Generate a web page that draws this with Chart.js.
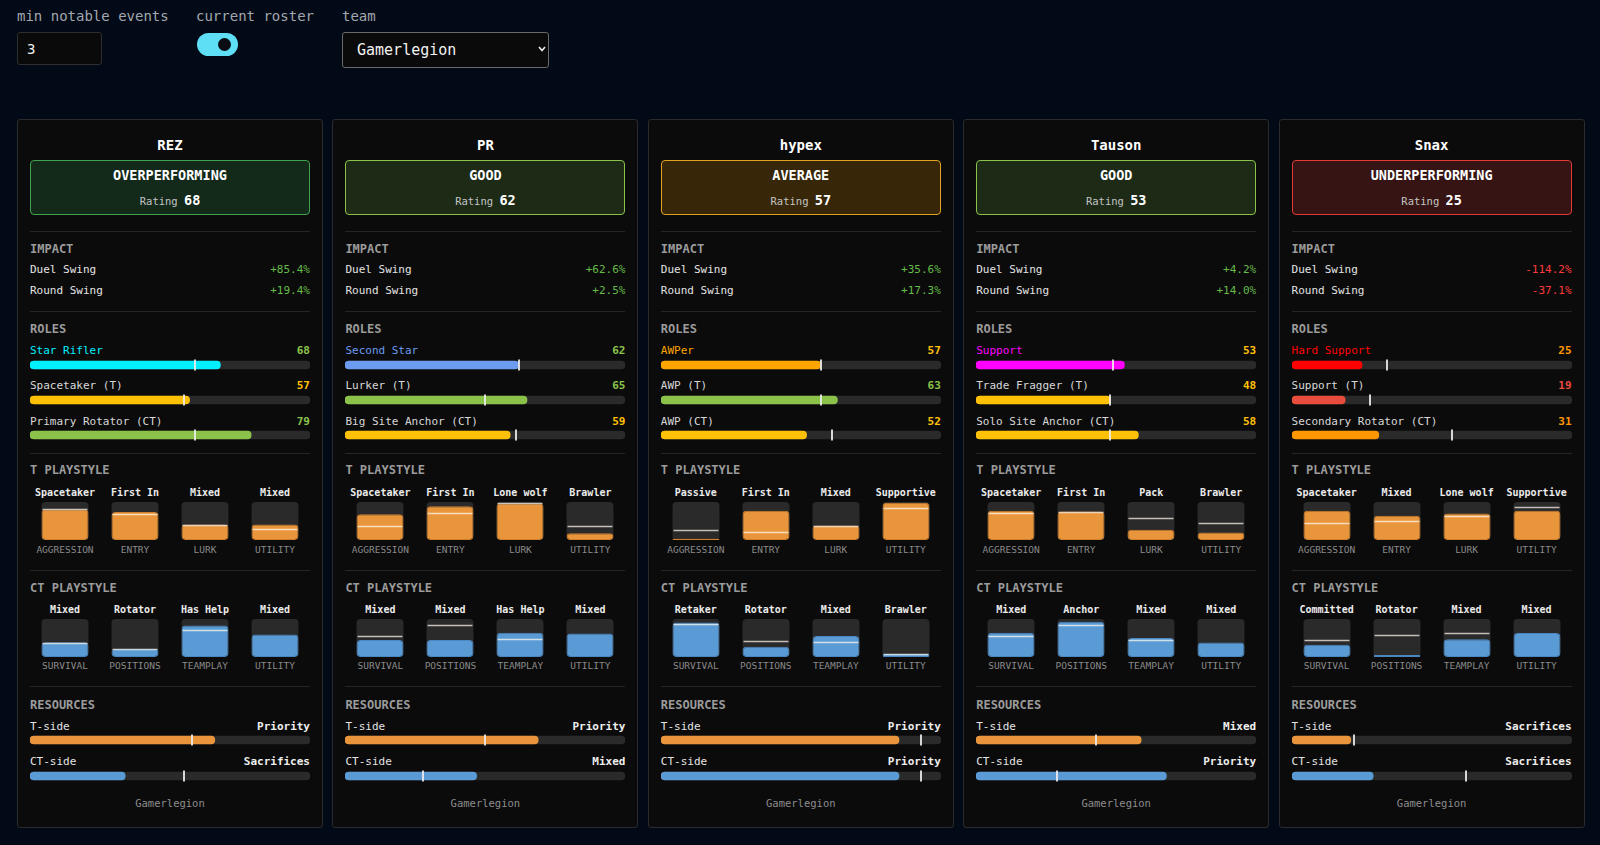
<!DOCTYPE html>
<html lang="en">
<head>
<meta charset="UTF-8">
<title>Gamerlegion roster</title>
<script src="https://cdn.jsdelivr.net/npm/chart.js@4.4.0/dist/chart.umd.min.js"></script>
<style>
  html, body { margin: 0; padding: 0; }
  body {
    width: 1600px; height: 845px; overflow: hidden; position: relative;
    background: #020a17; color: #e4e4e4;
    font-family: "DejaVu Sans Mono", "Liberation Mono", monospace;
  }
  .ctl-label { position: absolute; top: 8px; font-size: 14px; line-height: 16px; color: #a3a7ad; white-space: nowrap; }
  .num-input {
    position: absolute; left: 17px; top: 32px; width: 85px; height: 33px; box-sizing: border-box;
    background: #0a0a0a; border: 1px solid #2e2e2e; border-radius: 3px;
    color: #f0f0f0; font: 14px "DejaVu Sans Mono", monospace; padding: 0 0 0 9px;
  }
  .toggle { position: absolute; left: 197px; top: 33px; width: 41px; height: 23px; border-radius: 12px; background: #5fdff6; }
  .toggle .knob { position: absolute; left: 21px; top: 5px; width: 13px; height: 13px; border-radius: 50%; background: #0b0d14; }
  .team-select {
    position: absolute; left: 342px; top: 32px; width: 207px; height: 36px; box-sizing: border-box;
    appearance: none; -webkit-appearance: none;
    background: #0a0a0a; border: 1px solid #6a6a6a; border-radius: 3px;
    color: #f2f2f2; font: 15px "DejaVu Sans Mono", monospace; padding: 0 0 0 14px;
  }
  .chev { position: absolute; left: 538px; top: 46px; width: 8px; height: 6px; }
  .card {
    position: absolute; top: 119px; width: 306px; height: 709px; box-sizing: border-box;
    background: #0b0b0b; border: 1px solid #2b2b2b; border-radius: 3px;
  }
  .t { position: absolute; white-space: nowrap; }
  .rule { position: absolute; left: 12px; width: 280px; height: 1px; background: #252525; }
  .rbox { position: absolute; left: 12px; width: 280px; box-sizing: border-box; border: 1px solid; border-radius: 4px; }
  canvas { position: absolute; left: 12px; }
</style>
</head>
<body>
  <div class="ctl-label" style="left:17px">min notable events</div>
  <div class="ctl-label" style="left:196px">current roster</div>
  <div class="ctl-label" style="left:342px">team</div>
  <input class="num-input" type="text" value="3">
  <div class="toggle"><div class="knob"></div></div>
  <select class="team-select"><option>Gamerlegion</option></select>
  <svg class="chev" viewBox="0 0 8 6"><path d="M1 1 L4 4.5 L7 1" stroke="#eee" stroke-width="1.6" fill="none"/></svg>

<script>
// ---- data ----
const teamName = 'Gamerlegion';
const players = ['REZ', 'PR', 'hypex', 'Tauson', 'Snax'];
const verdicts = ['OVERPERFORMING', 'GOOD', 'AVERAGE', 'GOOD', 'UNDERPERFORMING'];
const ratings = [68, 62, 57, 53, 25];
const duelSwing = [85.4, 62.6, 35.6, 4.2, -114.2];
const roundSwing = [19.4, 2.5, 17.3, 14.0, -37.1];

const roleNames = [
  ['Star Rifler', 'Spacetaker (T)', 'Primary Rotator (CT)'],
  ['Second Star', 'Lurker (T)', 'Big Site Anchor (CT)'],
  ['AWPer', 'AWP (T)', 'AWP (CT)'],
  ['Support', 'Trade Fragger (T)', 'Solo Site Anchor (CT)'],
  ['Hard Support', 'Support (T)', 'Secondary Rotator (CT)']
];
const roleValues = [[68, 57, 79], [62, 65, 59], [57, 63, 52], [53, 48, 58], [25, 19, 31]];
const roleMarkers = [[59, 55, 59], [62, 50, 61], [57, 57, 61], [49, 48, 48], [34, 28, 57]];

const tAxes = ['AGGRESSION', 'ENTRY', 'LURK', 'UTILITY'];
const tStyleLabels = [
  ['Spacetaker', 'First In', 'Mixed', 'Mixed'],
  ['Spacetaker', 'First In', 'Lone wolf', 'Brawler'],
  ['Passive', 'First In', 'Mixed', 'Supportive'],
  ['Spacetaker', 'First In', 'Pack', 'Brawler'],
  ['Spacetaker', 'Mixed', 'Lone wolf', 'Supportive']
];
const tStyleValues = [[80, 74, 41, 41], [68, 89, 96, 18], [3, 77, 38, 98], [77, 75, 27, 20], [77, 64, 70, 77]];
const tStyleMarkers = [[82, 69, 39, 30], [38, 72, 97, 37], [27, 20, 36, 83], [70, 75, 58, 46], [44, 51, 64, 86]];

const ctAxes = ['SURVIVAL', 'POSITIONS', 'TEAMPLAY', 'UTILITY'];
const ctStyleLabels = [
  ['Mixed', 'Rotator', 'Has Help', 'Mixed'],
  ['Mixed', 'Mixed', 'Has Help', 'Mixed'],
  ['Retaker', 'Rotator', 'Mixed', 'Brawler'],
  ['Mixed', 'Anchor', 'Mixed', 'Mixed'],
  ['Committed', 'Rotator', 'Mixed', 'Mixed']
];
const ctStyleValues = [[39, 22, 83, 59], [45, 45, 64, 62], [91, 27, 55, 8], [64, 93, 50, 38], [32, 5, 47, 63]];
const ctStyleMarkers = [[37, 20, 70, null], [54, 83, 48, null], [88, 43, 39, 8], [54, 84, 45, null], [46, 57, 64, null]];

const resTLabels = ['Priority', 'Priority', 'Priority', 'Mixed', 'Sacrifices'];
const resTValues = [66, 69, 85, 59, 21];
const resTMarkers = [58, 50, 93, 43, 22];
const resCTLabels = ['Sacrifices', 'Mixed', 'Priority', 'Priority', 'Sacrifices'];
const resCTValues = [34, 47, 85, 68, 29];
const resCTMarkers = [55, 28, 93, 29, 62];

// ---- styling ----
const verdictStyle = {
  OVERPERFORMING: { border: '#3fa34d', bg: '#13291a' },
  GOOD: { border: '#8bc34a', bg: '#1c2a16' },
  AVERAGE: { border: '#e2a223', bg: '#372708' },
  UNDERPERFORMING: { border: '#e53935', bg: '#351413' }
};
const primaryRoleColor = {
  'Star Rifler': '#00f0ff', 'Second Star': '#6c9cf0', 'AWPer': '#ffa500',
  'Support': '#ff00ff', 'Hard Support': '#ff0000'
};
function valueColor(v) {
  if (v >= 60) return '#8bc34a';
  if (v >= 40) return '#ffc107';
  if (v >= 20) return '#ff9800';
  return '#e74c3c';
}
const TRACK = '#2a2a2a';
const T_FILL = '#e8953b';
const CT_FILL = '#5b9bd5';
const GRAY = '#9b9b9b';

// marker lines drawn through the chart's own scales
Chart.register({
  id: 'markers',
  afterDatasetsDraw(chart, args, opts) {
    const vals = opts.values;
    if (!vals) return;
    const ctx = chart.ctx;
    const meta = chart.getDatasetMeta(1);
    ctx.save();
    ctx.strokeStyle = opts.color;
    ctx.lineWidth = opts.width;
    vals.forEach((v, i) => {
      if (v == null) return;
      const el = meta.data[i];
      ctx.beginPath();
      if (chart.options.indexAxis === 'y') {
        const x = Math.round(chart.scales.x.getPixelForValue(v));
        ctx.moveTo(x, chart.chartArea.top + 0.5);
        ctx.lineTo(x, chart.chartArea.bottom - 0.5);
      } else {
        const y = Math.round(chart.scales.y.getPixelForValue(v)) + 0.5;
        ctx.moveTo(el.x - el.width / 2 + 1, y);
        ctx.lineTo(el.x + el.width / 2 - 1, y);
      }
      ctx.stroke();
    });
    ctx.restore();
  }
});

function baseOptions(extra) {
  return Object.assign({
    responsive: false, animation: false, events: [],
    layout: { padding: 0 }
  }, extra);
}

function hBar(card, top, value, marker, color) {
  const c = document.createElement('canvas');
  c.width = 280; c.height = 12;
  c.style.top = (top - 1) + 'px';
  card.appendChild(c);
  new Chart(c, {
    type: 'bar',
    data: {
      labels: [''],
      datasets: [
        { data: [value], backgroundColor: color, barThickness: 8, borderRadius: 4, borderSkipped: false, grouped: false, order: 0 },
        { data: [100], backgroundColor: TRACK, barThickness: 8, borderRadius: 4, borderSkipped: false, grouped: false, order: 1 }
      ]
    },
    options: baseOptions({
      indexAxis: 'y',
      scales: { x: { display: false, min: 0, max: 100 }, y: { display: false } },
      plugins: { legend: { display: false }, tooltip: { enabled: false },
        markers: { values: [marker], color: 'rgba(235,235,235,0.9)', width: 2 } }
    })
  });
}

function styleChart(card, top, values, markers, fill, edge) {
  const c = document.createElement('canvas');
  c.width = 280; c.height = 38;
  c.style.top = (top - 1) + 'px';
  card.appendChild(c);
  new Chart(c, {
    type: 'bar',
    data: {
      labels: values.map((_, i) => i),
      datasets: [
        { data: values, backgroundColor: fill, borderColor: edge, borderWidth: 1, borderRadius: 4, borderSkipped: false,
          grouped: false, categoryPercentage: 1, barPercentage: 0.671, order: 0 },
        { data: values.map(() => 100), backgroundColor: TRACK, borderRadius: 4, borderSkipped: false,
          grouped: false, categoryPercentage: 1, barPercentage: 0.671, order: 1 }
      ]
    },
    options: baseOptions({
      scales: { x: { display: false }, y: { display: false, min: 0, max: 100 } },
      plugins: { legend: { display: false }, tooltip: { enabled: false },
        markers: { values: markers, color: 'rgba(255,250,240,0.72)', width: 1.5 } }
    })
  });
}

function text(card, str, cy, o) {
  const d = document.createElement('div');
  d.className = 't';
  d.textContent = str;
  const size = o.size || 11;
  const lh = size + 4;
  d.style.fontSize = size + 'px';
  d.style.lineHeight = lh + 'px';
  d.style.top = (cy - 1 - lh / 2) + 'px';
  d.style.color = o.color || '#e4e4e4';
  if (o.bold) d.style.fontWeight = 'bold';
  if (o.align === 'center') {
    d.style.left = (o.left != null ? o.left : 12) + 'px';
    d.style.width = (o.width || 280) + 'px';
    d.style.textAlign = 'center';
  } else if (o.align === 'right') {
    d.style.right = '12px';
  } else {
    d.style.left = '12px';
  }
  card.appendChild(d);
  return d;
}

function rule(card, y) {
  const r = document.createElement('div');
  r.className = 'rule';
  r.style.top = (y - 1) + 'px';
  card.appendChild(r);
}

function pct(v) {
  return (v > 0 ? '+' : '') + v.toFixed(1) + '%';
}

players.forEach((name, p) => {
  const card = document.createElement('div');
  card.className = 'card';
  card.style.left = (17 + p * 315.4) + 'px';
  document.body.appendChild(card);

  text(card, name, 25.6, { size: 14, bold: true, align: 'center', color: '#ffffff' });

  const vs = verdictStyle[verdicts[p]];
  const box = document.createElement('div');
  box.className = 'rbox';
  box.style.top = '39.6px';
  box.style.height = '55.5px';
  box.style.borderColor = vs.border;
  box.style.background = vs.bg;
  card.appendChild(box);
  text(card, verdicts[p], 57.1, { size: 13.5, bold: true, align: 'center', color: '#ffffff' });
  const rl = text(card, '', 81.6, { size: 10.5, align: 'center', color: '#c4c4c4' });
  rl.innerHTML = 'Rating <b style="font-size:13.5px;color:#fff">' + ratings[p] + '</b>';

  rule(card, 112.2);
  text(card, 'IMPACT', 129.6, { size: 12, bold: true, color: GRAY });
  text(card, 'Duel Swing', 150, {});
  text(card, pct(duelSwing[p]), 150, { align: 'right', color: duelSwing[p] >= 0 ? '#66bb4a' : '#ff3b3b' });
  text(card, 'Round Swing', 171.4, {});
  text(card, pct(roundSwing[p]), 171.4, { align: 'right', color: roundSwing[p] >= 0 ? '#66bb4a' : '#ff3b3b' });

  rule(card, 191.6);
  text(card, 'ROLES', 210.2, { size: 12, bold: true, color: GRAY });
  roleNames[p].forEach((role, i) => {
    const v = roleValues[p][i];
    const c = i === 0 ? primaryRoleColor[role] : valueColor(v);
    text(card, role, 231.6 + i * 35.2, { color: i === 0 ? c : '#d8d8d8' });
    text(card, String(v), 231.6 + i * 35.2, { bold: true, align: 'right', color: valueColor(v) });
    hBar(card, 245.9 + i * 35.2 - 6, v, roleMarkers[p][i], c);
  });

  rule(card, 333.6);
  text(card, 'T PLAYSTYLE', 351, { size: 12, bold: true, color: GRAY });
  tStyleLabels[p].forEach((s, i) => {
    text(card, s, 373.5, { size: 10, bold: true, align: 'center', left: 12 + i * 70, width: 70, color: '#ececec' });
    text(card, tAxes[i], 430.6, { size: 9.5, align: 'center', left: 12 + i * 70, width: 70, color: '#8a8a8a' });
  });
  styleChart(card, 383.3, tStyleValues[p], tStyleMarkers[p], T_FILL, '#cf7f2c');

  rule(card, 451);
  text(card, 'CT PLAYSTYLE', 469.4, { size: 12, bold: true, color: GRAY });
  ctStyleLabels[p].forEach((s, i) => {
    text(card, s, 490.6, { size: 10, bold: true, align: 'center', left: 12 + i * 70, width: 70, color: '#ececec' });
    text(card, ctAxes[i], 546.6, { size: 9.5, align: 'center', left: 12 + i * 70, width: 70, color: '#8a8a8a' });
  });
  styleChart(card, 500.2, ctStyleValues[p], ctStyleMarkers[p], CT_FILL, '#4a86c2');

  rule(card, 567.3);
  text(card, 'RESOURCES', 585.6, { size: 12, bold: true, color: GRAY });
  text(card, 'T-side', 607.1, {});
  text(card, resTLabels[p], 607.1, { bold: true, align: 'right', color: '#eeeeee' });
  hBar(card, 621.4 - 6, resTValues[p], resTMarkers[p], T_FILL);
  text(card, 'CT-side', 642.8, {});
  text(card, resCTLabels[p], 642.8, { bold: true, align: 'right', color: '#eeeeee' });
  hBar(card, 657.1 - 6, resCTValues[p], resCTMarkers[p], CT_FILL);

  text(card, teamName, 684.6, { size: 10.5, align: 'center', color: '#8d8d8d' });
});
</script>
</body>
</html>
